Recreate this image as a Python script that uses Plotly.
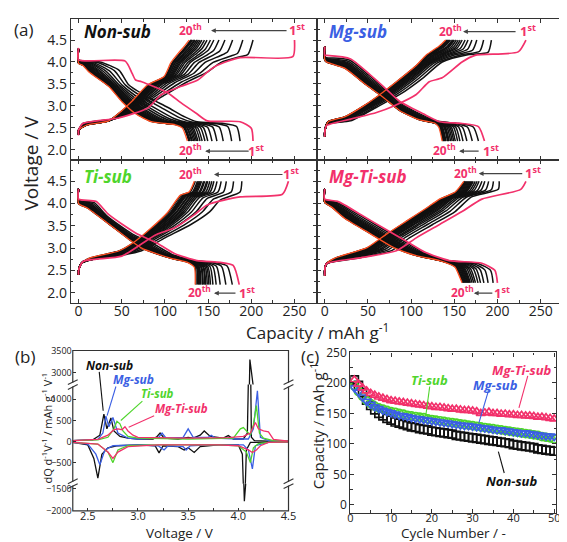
import plotly.graph_objects as go

W, H = 567, 542

# ---------------- Panel (c): discharge capacity vs cycle ----------------
cycles = list(range(1, 51))
cap_nonsub = [205, 196, 184, 172, 163, 156, 150, 146, 142, 139, 136, 134, 132, 130, 128, 127, 125, 124, 123, 121,
              120, 119, 118, 117, 116, 114, 113, 112, 111, 110, 109, 108, 107, 106, 105, 104, 103, 102, 101, 99,
              98, 97, 96, 95, 94, 92, 91, 90, 89, 88]
cap_mgsub = [192, 185, 177, 170, 165, 161, 158, 155, 153, 151, 149, 147, 146, 145, 143, 142, 141, 140, 139, 138,
             137, 136, 135, 134, 133, 132, 131, 130, 130, 129, 128, 127, 126, 125, 124, 123, 123, 122, 121, 120,
             119, 118, 118, 117, 116, 115, 114, 113, 113, 112]
cap_tisub = [195, 186, 178, 171, 166, 162, 159, 157, 155, 153, 152, 150, 149, 147, 146, 145, 144, 143, 141, 140,
             139, 138, 137, 136, 135, 134, 133, 132, 131, 130, 129, 128, 127, 126, 125, 124, 123, 122, 121, 120,
             119, 118, 117, 116, 115, 114, 112, 111, 110, 108]
cap_mgtisub = [205, 198, 192, 187, 183, 180, 177, 175, 173, 171, 170, 169, 168, 167, 166, 165, 164, 163, 162, 161,
               160, 160, 159, 158, 157, 157, 156, 155, 155, 154, 153, 150, 151, 152, 150, 150, 149, 149, 148, 148,
               147, 147, 146, 146, 145, 144, 144, 143, 142, 141]

# ---------------- Panel (a): charge / discharge profiles ----------------
# Non-sub
non_dis1_cap = [0, 0, 54, 62, 66, 73, 103, 118, 137, 149, 187, 200, 202]
non_dis1_v = [4.32, 4.05, 4.02, 3.74, 3.59, 3.55, 3.3, 3.08, 2.82, 2.66, 2.64, 2.49, 2.2]
non_dis2_cap = [0, 0, 25, 47, 58, 81, 103, 123, 137, 168, 183, 187]
non_dis2_v = [4.3, 4.05, 4.0, 3.81, 3.48, 3.19, 2.97, 2.75, 2.64, 2.6, 2.53, 2.2]
non_dis20_cap = [0, 0, 5, 12, 35, 50, 66, 84, 100, 112, 120, 126]
non_dis20_v = [4.3, 3.97, 3.92, 3.77, 3.44, 3.1, 2.82, 2.64, 2.6, 2.57, 2.5, 2.2]
non_chg1_cap = [0, 0, 5, 45, 80, 96, 118, 138, 149, 160, 187, 248, 250]
non_chg1_v = [2.33, 2.45, 2.6, 2.72, 2.95, 3.26, 3.44, 3.59, 3.77, 3.92, 4.1, 4.12, 4.5]
non_chg2_cap = [0, 0, 5, 40, 70, 100, 126, 149, 165, 187, 196, 202]
non_chg2_v = [2.35, 2.45, 2.6, 2.7, 2.9, 3.25, 3.55, 3.77, 3.99, 4.12, 4.17, 4.5]
non_chg20_cap = [0, 0, 9, 35, 50, 62, 80, 99, 107, 115, 122, 128]
non_chg20_v = [2.35, 2.45, 2.56, 2.66, 2.89, 3.11, 3.48, 3.67, 3.99, 4.19, 4.35, 4.5]
# Mg-sub
mg_dis1_cap = [0, 0, 2, 30, 53, 68, 87, 114, 133, 159, 178, 185]
mg_dis1_v = [4.35, 4.15, 4.15, 4.07, 3.7, 3.44, 3.1, 2.82, 2.64, 2.6, 2.53, 2.2]
mg_dis2_cap = [0, 0, 2, 28, 51, 66, 85, 112, 131, 155, 172, 178]
mg_dis2_v = [4.35, 4.12, 4.1, 4.05, 3.7, 3.44, 3.1, 2.8, 2.65, 2.6, 2.52, 2.2]
mg_dis20_cap = [0, 0, 2, 23, 45, 68, 87, 110, 120, 128, 132, 136]
mg_dis20_v = [4.35, 4.05, 4.0, 3.86, 3.52, 3.19, 2.89, 2.68, 2.64, 2.6, 2.52, 2.2]
mg_chg1_cap = [0, 0, 2, 30, 60, 80, 106, 121, 136, 159, 174, 224, 233]
mg_chg1_v = [2.3, 2.4, 2.55, 2.7, 2.85, 3.0, 3.26, 3.55, 3.64, 4.0, 4.15, 4.23, 4.5]
mg_chg2_cap = [0, 0, 2, 30, 60, 87, 114, 136, 167, 189, 193]
mg_chg2_v = [2.3, 2.4, 2.58, 2.66, 2.97, 3.26, 3.64, 4.0, 4.17, 4.22, 4.5]
mg_chg20_cap = [0, 0, 4, 23, 45, 64, 83, 106, 117, 133, 140]
mg_chg20_v = [2.3, 2.4, 2.64, 2.75, 3.0, 3.26, 3.55, 3.92, 4.15, 4.37, 4.5]
# Ti-sub
ti_dis1_cap = [0, 0, 20, 35, 66, 92, 111, 137, 164, 179, 186]
ti_dis1_v = [4.33, 4.1, 4.05, 3.75, 3.34, 3.1, 2.88, 2.72, 2.68, 2.61, 2.18]
ti_dis2_cap = [0, 0, 18, 33, 62, 88, 108, 134, 160, 172, 178]
ti_dis2_v = [4.33, 4.08, 4.02, 3.72, 3.32, 3.08, 2.86, 2.72, 2.67, 2.6, 2.18]
ti_dis20_cap = [0, 0, 10, 35, 58, 73, 89, 107, 126, 134, 135]
ti_dis20_v = [4.33, 4.0, 3.9, 3.54, 3.2, 3.0, 2.88, 2.77, 2.68, 2.57, 2.18]
ti_chg1_cap = [0, 0, 5, 50, 81, 92, 111, 134, 149, 187, 236, 243]
ti_chg1_v = [2.4, 2.5, 2.7, 2.82, 3.2, 3.32, 3.45, 3.75, 3.97, 4.15, 4.21, 4.5]
ti_chg2_cap = [0, 0, 5, 45, 73, 100, 130, 152, 164, 187, 189]
ti_chg2_v = [2.4, 2.5, 2.7, 2.82, 2.94, 3.23, 3.53, 3.82, 4.08, 4.26, 4.5]
ti_chg20_cap = [0, 0, 3, 12, 47, 66, 84, 103, 118, 128, 134]
ti_chg20_v = [2.4, 2.5, 2.65, 2.77, 2.94, 3.16, 3.45, 3.8, 4.19, 4.26, 4.5]
# Mg-Ti-sub
mgti_dis1_cap = [0, 0, 15, 42, 68, 94, 117, 144, 182, 197, 200]
mgti_dis1_v = [4.33, 4.1, 4.05, 3.75, 3.45, 3.16, 2.9, 2.72, 2.66, 2.5, 2.22]
mgti_dis2_cap = [0, 0, 14, 40, 66, 92, 115, 142, 178, 192, 195]
mgti_dis2_v = [4.33, 4.08, 4.03, 3.74, 3.44, 3.15, 2.89, 2.72, 2.65, 2.5, 2.22]
mgti_dis20_cap = [0, 0, 8, 23, 53, 80, 106, 133, 147, 151, 159]
mgti_dis20_v = [4.33, 4.03, 3.92, 3.67, 3.32, 3.01, 2.83, 2.72, 2.62, 2.57, 2.22]
mgti_chg1_cap = [0, 0, 2, 40, 83, 106, 133, 159, 182, 227, 233]
mgti_chg1_v = [2.38, 2.5, 2.65, 2.78, 2.94, 3.23, 3.53, 3.82, 4.1, 4.32, 4.5]
mgti_chg2_cap = [0, 0, 2, 40, 78, 98, 125, 151, 170, 201, 202]
mgti_chg2_v = [2.38, 2.5, 2.65, 2.78, 2.95, 3.23, 3.53, 3.82, 4.15, 4.32, 4.5]
mgti_chg20_cap = [0, 0, 2, 11, 49, 72, 94, 117, 133, 151, 161]
mgti_chg20_v = [2.38, 2.5, 2.65, 2.77, 3.01, 3.32, 3.6, 3.89, 4.1, 4.26, 4.5]

# ---------------- Panel (b): dQ/dV ----------------
non_chg_dv = [2.35, 2.55, 2.62, 2.66, 2.69, 2.73, 2.76, 2.82, 2.9, 3.0, 3.15, 3.19, 3.22, 3.26, 3.4, 3.47, 3.5, 3.55,
              3.62, 3.66, 3.72, 3.85, 3.9, 3.95, 4.05, 4.09, 4.115, 4.13, 4.16, 4.3, 4.5]
non_chg_dq = [20, 40, 150, 650, 300, 560, 250, 120, 80, 60, 60, 120, 200, 80, 60, 80, 100, 80,
              150, 250, 120, 80, 140, 60, 60, 200, 3300, 100, 20, 10, 10]
non_dis_dv = [2.35, 2.5, 2.56, 2.6, 2.64, 2.7, 2.8, 3.0, 3.17, 3.21, 3.25, 3.4, 3.46, 3.5, 3.56, 3.62, 3.8, 4.0,
              4.04, 4.06, 4.08, 4.12, 4.5]
non_dis_dq = [-20, -80, -400, -870, -300, -150, -100, -80, -100, -270, -100, -120, -200, -150, -260, -120, -80, -80,
              -300, -1780, -200, -20, -10]
mg_chg_dv = [2.35, 2.6, 2.65, 2.68, 2.71, 2.75, 2.8, 2.9, 3.0, 3.2, 3.24, 3.28, 3.45, 3.5, 3.55, 3.7, 3.73, 3.77,
             4.0, 4.1, 4.15, 4.19, 4.22, 4.3, 4.5]
mg_chg_dq = [20, 50, 200, 600, 350, 570, 200, 80, 60, 80, 200, 80, 100, 300, 100, 100, 150, 80,
             60, 60, 300, 1200, 100, 20, 10]
mg_dis_dv = [2.35, 2.5, 2.58, 2.62, 2.67, 2.75, 3.0, 3.2, 3.26, 3.3, 3.45, 3.48, 3.52, 3.7, 4.05, 4.1, 4.14, 4.17,
             4.3, 4.5]
mg_dis_dq = [-20, -60, -300, -550, -200, -100, -80, -100, -200, -100, -120, -200, -100, -80, -80, -200, -650, -100,
             -20, -10]
ti_chg_dv = [2.35, 2.6, 2.7, 2.76, 2.79, 2.82, 2.85, 2.9, 3.0, 3.5, 3.95, 4.02, 4.05, 4.08, 4.12, 4.15, 4.18, 4.21,
             4.25, 4.35, 4.5]
ti_chg_dq = [20, 40, 100, 300, 480, 420, 250, 120, 80, 60, 80, 300, 330, 250, 150, 400, 850, 200, 80, 20, 10]
ti_dis_dv = [2.35, 2.6, 2.7, 2.75, 2.8, 2.9, 3.2, 3.8, 4.0, 4.08, 4.12, 4.15, 4.2, 4.3, 4.5]
ti_dis_dq = [-20, -60, -250, -500, -200, -100, -80, -80, -100, -250, -500, -150, -50, -20, -10]
mgti_chg_dv = [2.35, 2.6, 2.7, 2.76, 2.8, 2.84, 2.87, 2.9, 2.95, 3.0, 3.5, 3.9, 4.05, 4.12, 4.17, 4.2, 4.25, 4.3,
               4.35, 4.5]
mgti_chg_dq = [20, 50, 150, 280, 300, 280, 350, 250, 150, 100, 80, 90, 120, 200, 450, 300, 250, 230, 50, 10]
mgti_dis_dv = [2.35, 2.6, 2.7, 2.75, 2.8, 2.9, 3.2, 3.8, 4.0, 4.1, 4.14, 4.18, 4.22, 4.3, 4.5]
mgti_dis_dq = [-20, -60, -250, -400, -250, -120, -80, -80, -100, -200, -260, -200, -100, -20, -10]

# ---------------- styling ----------------
FONT = "Open Sans"
BLACK = "#111111"
BLUE = "#3b5fe3"
GREEN = "#4fd52c"
PINK = "#f2316b"
ORANGE = "#ff5022"
AXC = "#333333"


def px(x):
    return x / W


def py(y):
    return 1 - y / H


fig = go.Figure()


def blend(a2, a20, w):
    return [b + w * (a - b) for a, b in zip(a2, a20)]


def add_panel_a(ax, caps, d1, d2, d20, c1, c2, c20):
    xa, ya = ax
    w_ref = caps[1] - caps[19]
    for k in range(2, 20):
        w = (caps[k - 1] - caps[19]) / w_ref
        for (p2, p20) in ((d2, d20), (c2, c20)):
            fig.add_trace(go.Scatter(x=blend(p2[0], p20[0], w), y=blend(p2[1], p20[1], w),
                                     mode="lines", xaxis=xa, yaxis=ya, showlegend=False,
                                     line=dict(color=BLACK, width=1.5, shape="spline", smoothing=0.6),
                                     hoverinfo="skip"))
    for p in (d20, c20):
        fig.add_trace(go.Scatter(x=p[0], y=p[1], mode="lines", xaxis=xa, yaxis=ya, showlegend=False,
                                 line=dict(color=ORANGE, width=1.3, shape="spline", smoothing=0.6),
                                 hoverinfo="skip"))
    for p in (d1, c1):
        fig.add_trace(go.Scatter(x=p[0], y=p[1], mode="lines", xaxis=xa, yaxis=ya, showlegend=False,
                                 line=dict(color=PINK, width=1.7, shape="spline", smoothing=0.6),
                                 hoverinfo="skip"))


add_panel_a(("x", "y"), cap_nonsub, (non_dis1_cap, non_dis1_v), (non_dis2_cap, non_dis2_v),
            (non_dis20_cap, non_dis20_v), (non_chg1_cap, non_chg1_v), (non_chg2_cap, non_chg2_v),
            (non_chg20_cap, non_chg20_v))
add_panel_a(("x2", "y2"), cap_mgsub, (mg_dis1_cap, mg_dis1_v), (mg_dis2_cap, mg_dis2_v),
            (mg_dis20_cap, mg_dis20_v), (mg_chg1_cap, mg_chg1_v), (mg_chg2_cap, mg_chg2_v),
            (mg_chg20_cap, mg_chg20_v))
add_panel_a(("x3", "y3"), cap_tisub, (ti_dis1_cap, ti_dis1_v), (ti_dis2_cap, ti_dis2_v),
            (ti_dis20_cap, ti_dis20_v), (ti_chg1_cap, ti_chg1_v), (ti_chg2_cap, ti_chg2_v),
            (ti_chg20_cap, ti_chg20_v))
add_panel_a(("x4", "y4"), cap_mgtisub, (mgti_dis1_cap, mgti_dis1_v), (mgti_dis2_cap, mgti_dis2_v),
            (mgti_dis20_cap, mgti_dis20_v), (mgti_chg1_cap, mgti_chg1_v), (mgti_chg2_cap, mgti_chg2_v),
            (mgti_chg20_cap, mgti_chg20_v))

# Panel (b): draw each curve on three y-segments of the broken axis
b_series = [
    (non_chg_dv, non_chg_dq, BLACK), (non_dis_dv, non_dis_dq, BLACK),
    (mg_chg_dv, mg_chg_dq, BLUE), (mg_dis_dv, mg_dis_dq, BLUE),
    (ti_chg_dv, ti_chg_dq, GREEN), (ti_dis_dv, ti_dis_dq, GREEN),
    (mgti_chg_dv, mgti_chg_dq, PINK), (mgti_dis_dv, mgti_dis_dq, PINK),
]
for yax in ("y5", "y6", "y7"):
    for vx, dq, col in b_series:
        fig.add_trace(go.Scatter(x=vx, y=dq, mode="lines", xaxis="x5", yaxis=yax, showlegend=False,
                                 line=dict(color=col, width=1.3), hoverinfo="skip"))

# Panel (c)
c_series = [
    (cap_nonsub, BLACK, "square-open"),
    (cap_tisub, GREEN, "circle-open"),
    (cap_mgsub, BLUE, "triangle-down-open"),
    (cap_mgtisub, PINK, "triangle-up-open"),
]
for vals, col, sym in c_series:
    fig.add_trace(go.Scatter(x=cycles, y=vals, mode="markers", xaxis="x6", yaxis="y8", showlegend=False,
                             marker=dict(symbol=sym, size=8, color=col, line=dict(color=col, width=1.7)),
                             hoverinfo="skip"))

# ---------------- axes ----------------
tickfont_a = dict(family=FONT, size=14, color="#222")


def axis(domain, rng, tickvals, showlabels, anchor, minor_dtick, fmt=None, font=tickfont_a, ticklen=4,
         standoff=0):
    d = dict(domain=domain, range=rng, tickvals=tickvals, showticklabels=showlabels, anchor=anchor,
             showline=True, mirror="allticks", linecolor=AXC, linewidth=1.2, ticks="inside",
             ticklen=ticklen, tickwidth=1.1, tickcolor=AXC, showgrid=False, zeroline=False,
             tickfont=font, minor=dict(ticks="inside", ticklen=2.5, tickcolor=AXC, dtick=minor_dtick),
             fixedrange=True, ticklabelstandoff=standoff)
    if fmt:
        d["tickformat"] = fmt
    return d


xa_rng = [-9, 276]
ya_rng = [1.77, 4.98]
xticks_a = [0, 50, 100, 150, 200, 250]
yticks_a = [2.0, 2.5, 3.0, 3.5, 4.0, 4.5]
xL = [px(61), px(312)]
xR = [px(312), px(563)]
yT = [py(147), py(2)]
yB = [py(294), py(147)]

layout = dict(
    width=W, height=H, margin=dict(l=0, r=0, t=0, b=0),
    paper_bgcolor="white", plot_bgcolor="white", font=dict(family=FONT, color="#222"),
    xaxis=axis(xL, xa_rng, xticks_a, False, "y", 25),
    yaxis=axis(yT, ya_rng, yticks_a, True, "x", 0.25, ".1f"),
    xaxis2=axis(xR, xa_rng, xticks_a, False, "y2", 25),
    yaxis2=axis(yT, ya_rng, yticks_a, False, "x2", 0.25, ".1f"),
    xaxis3=axis(xL, xa_rng, xticks_a, True, "y3", 25, standoff=-5),
    yaxis3=axis(yB, ya_rng, yticks_a, True, "x3", 0.25, ".1f"),
    xaxis4=axis(xR, xa_rng, xticks_a, True, "y4", 25, standoff=-5),
    yaxis4=axis(yB, ya_rng, yticks_a, False, "x4", 0.25, ".1f"),
)

fb_x = dict(family=FONT, size=11, color="#222")
fb_y = dict(family=FONT, size=9, color="#222")
xb = [px(63), px(283)]
bx = axis(xb, [2.35, 4.5], [2.5, 3.0, 3.5, 4.0, 4.5], True, "y7", 0.25, ".1f", fb_x, 3, standoff=-3)
bx["showline"] = False
bx["mirror"] = False
layout["xaxis5"] = bx
for name, dom, rng, tv in (("yaxis5", [py(480), py(378)], [-1000, 1350], [-500, 0, 500, 1000]),
                           ("yaxis6", [py(378), py(343)], [2740, 3500], [3000, 3500]),
                           ("yaxis7", [py(508), py(480)], [-2000, -1390], [-2000, -1500])):
    ya = axis(dom, rng, tv, True, "x5", 250, None, fb_y, 3)
    ya["showline"] = False
    ya["mirror"] = False
    ya["minor"] = dict(ticks="")
    layout[name] = ya

fcx = dict(family=FONT, size=11, color="#222")
fc = dict(family=FONT, size=12, color="#222")
layout["xaxis6"] = axis([px(346), px(556)], [0, 50.5], [0, 10, 20, 30, 40, 50], True, "y8", 5, None, fcx, 4,
                        standoff=-5)
layout["yaxis8"] = axis([py(510), py(345)], [-13, 250], [0, 50, 100, 150, 200, 250], True, "x6", 25, None, fc, 4)

fig.update_layout(**layout)

# ---------------- shapes (frame and axis breaks of panel b) ----------------
shapes = [dict(type="rect", xref="paper", yref="paper", x0=px(63), x1=px(283), y0=py(508), y1=py(343),
               line=dict(color=AXC, width=1.2))]
for bxp in (63, 283):
    for byp in (378, 480):
        shapes.append(dict(type="rect", xref="paper", yref="paper", x0=px(bxp - 2), x1=px(bxp + 2),
                           y0=py(byp + 2), y1=py(byp - 2), fillcolor="white", line=dict(width=0)))
        for off in (-2.5, 2.5):
            shapes.append(dict(type="line", xref="paper", yref="paper",
                               x0=px(bxp - 5), y0=py(byp + off + 2.5), x1=px(bxp + 5), y1=py(byp + off - 2.5),
                               line=dict(color=AXC, width=1.1)))

# ---------------- annotations ----------------
ann = []
shapes_extra = []


def text(x, y, t, size, color="#222", bold=False, italic=False, xanchor="center", angle=0):
    s = t
    if bold:
        s = "<b>" + s + "</b>"
    if italic:
        s = "<i>" + s + "</i>"
    ann.append(dict(x=px(x), y=py(y), xref="paper", yref="paper", text=s, showarrow=False,
                    xanchor=xanchor, yanchor="middle", textangle=angle,
                    font=dict(family=FONT, size=size, color=color)))


def arrow(x_head, x_tail, y):
    ann.append(dict(x=px(x_head), y=py(y), xref="paper", yref="paper", ax=x_tail - x_head, ay=0,
                    axref="pixel", ayref="pixel", text="", showarrow=True, arrowhead=2, arrowsize=0.8,
                    arrowwidth=1.2, arrowcolor="#444"))


def leader(x0, y0, x1, y1, col):
    shapes_extra.append(dict(type="line", xref="paper", yref="paper", x0=px(x0), y0=py(y0), x1=px(x1),
                             y1=py(y1), line=dict(color=col, width=1.1)))


text(13, 13, "(a)", 17)
text(20, 150, "Voltage / V", 19, angle=-90)
text(313, 323, "Capacity / mAh g<sup>-1</sup>", 17)
text(72, 15, "Non-sub", 17, BLACK, True, True, "left")
text(322, 15, "Mg-sub", 17, BLUE, True, True, "left")
text(72, 164, "Ti-sub", 17, GREEN, True, True, "left")
text(322, 164, "Mg-Ti-sub", 17, PINK, True, True, "left")

# 20th <- 1st labels
lbl = [  # (x20, xhead, xtail, x1st, y)
    (183, 204, 281, 292, 13), (183, 198, 243, 250, 137),
    (448, 461, 515, 527, 14), (442, 457, 478, 489, 137),
    (183, 207, 277, 286, 161), (192, 207, 230, 241, 283),
    (463, 477, 522, 532, 160), (460, 472, 492, 501, 283),
]
for x20, xh, xt, x1, yy in lbl:
    text(x20, yy, "20<sup>th</sup>", 12, PINK, True)
    text(x1, yy, "1<sup>st</sup>", 13, PINK, True)
    arrow(xh, xt, yy + 1)

# panel (b)
text(14, 349, "(b)", 17)
text(37, 423, "dQ d<sup>-1</sup>V<sup>-1</sup> / mAh g<sup>-1</sup> V<sup>-1</sup>", 11, angle=-90)
text(172, 531, "Voltage / V", 13.5)
text(100, 358, "Non-sub", 12, BLACK, True, True)
text(125, 373, "Mg-sub", 12, BLUE, True, True)
text(149, 387, "Ti-sub", 11.5, GREEN, True, True)
text(174, 403, "Mg-Ti-sub", 11.5, PINK, True, True)
leader(90, 365, 94, 405, BLACK)
leader(107, 380, 98, 410, BLUE)
leader(134, 395, 112, 415, GREEN)
leader(146, 410, 120, 422, PINK)

# panel (c)
text(305, 349, "(c)", 17)
text(312, 421, "Capacity / mAh g<sup>-1</sup>", 15, angle=-90)
text(451, 531, "Cycle Number / -", 13.5)
text(427, 373, "Ti-sub", 13, GREEN, True, True)
text(494, 378, "Mg-sub", 13, BLUE, True, True)
text(521, 363, "Mg-Ti-sub", 13, PINK, True, True)
text(510, 477, "Non-sub", 13, BLACK, True, True)
leader(427, 380, 423, 410, GREEN)
leader(487, 384, 477, 418, BLUE)
leader(527, 369, 518, 402, PINK)
leader(503, 469, 497, 447, BLACK)

fig.update_layout(annotations=ann, shapes=shapes + shapes_extra)
fig.write_html("out.html")
